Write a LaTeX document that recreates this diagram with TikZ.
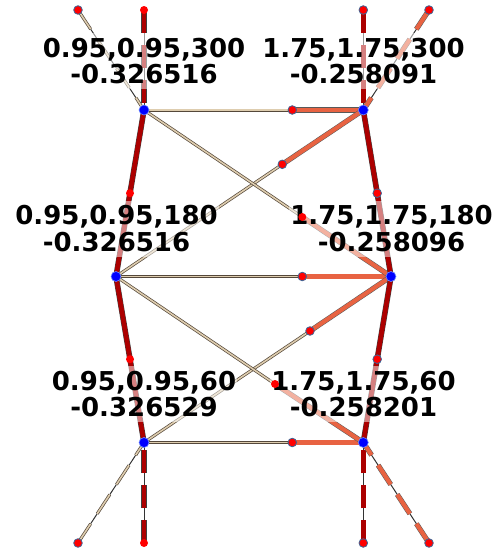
\documentclass[tikz,border=0pt]{standalone}
\usepackage{fontspec}
\newfontfamily\labfont{DejaVu Sans}
\definecolor{mdark}{RGB}{172,0,0}
\definecolor{morange}{RGB}{232,99,66}
\definecolor{mtan}{RGB}{222,205,175}
\definecolor{tanedge}{RGB}{85,72,58}
\definecolor{edgeblue}{RGB}{60,100,150}
\definecolor{jointedge}{RGB}{110,140,255}
\pgfdeclarelayer{edges}
\pgfsetlayers{edges,main}
\begin{document}
\begin{tikzpicture}[x=1pt,y=-1pt,
  redm/.style={draw=black!75, line width=0.5pt, double=mdark, double distance=4.6pt},
  orm/.style={draw=black!65, line width=0.5pt, double=morange, double distance=4.2pt},
  tanm/.style={draw=tanedge, line width=0.7pt, double=mtan, double distance=1.6pt},
  core/.style={draw=black!80, line width=1pt},
  dashpat/.style={dash pattern=on 23pt off 12pt},
  joint/.style={circle, fill=blue, draw=jointedge, line width=0.6pt, inner sep=0pt, minimum size=10pt},
  endp/.style={circle, fill=red, draw=edgeblue, line width=0.8pt, inner sep=0pt, minimum size=8.6pt},
  endq/.style={circle, fill=red, inner sep=0pt, minimum size=8pt},
  lab/.style={fill=white, fill opacity=0.5, text opacity=1, align=center,
    font=\labfont\bfseries\fontsize{26pt}{26.5pt}\selectfont, inner xsep=1pt, inner ysep=5pt}
]
\useasboundingbox (0,0) rectangle (500,552);

% labels
\node[lab] (t1) at (144,60.8) {0.95,0.95,300\\-0.326516};
\node[lab] (t2) at (363.5,60.8) {1.75,1.75,300\\-0.258091};
\node[lab] (t3) at (116.5,228.6) {0.95,0.95,180\\-0.326516};
\node[lab] (t4) at (391.5,228.6) {1.75,1.75,180\\-0.258096};
\node[lab] (t5) at (144,394.2) {0.95,0.95,60\\-0.326529};
\node[lab] (t6) at (363.5,394.2) {1.75,1.75,60\\-0.258201};

% joints
\node[joint] (L1) at (144,110) {};
\node[joint] (R1) at (363.3,110) {};
\node[joint] (L2) at (116,276.5) {};
\node[joint] (R2) at (391,276.5) {};
\node[joint] (L3) at (144,442.5) {};
\node[joint] (R3) at (363.3,442.5) {};

% end points
\node[endp] (A0) at (78,10) {};
\node[endq] (A1) at (144,10) {};
\node[endp] (B1) at (363.3,10) {};
\node[endp] (B0) at (429,10) {};
\node[endp] (C0) at (78,543) {};
\node[endq] (C1) at (144,543) {};
\node[endp] (D1) at (363.3,543) {};
\node[endp] (D0) at (429,543) {};

% mid points
\node[endp] (m1) at (292.3,110) {};
\node[endp] (m2) at (282.3,164.3) {};
\node[endq] (m3) at (302.3,217) {};
\node[endq] (m4) at (130,193.2) {};
\node[endp] (m5) at (377.2,193.2) {};
\node[endp] (m6) at (302.3,276.5) {};
\node[endp] (m7) at (310,331) {};
\node[endq] (m8) at (275,384) {};
\node[endq] (m9) at (130,359.2) {};
\node[endp] (m10) at (377.2,359.2) {};
\node[endp] (m11) at (292.3,442.5) {};

\begin{pgfonlayer}{edges}
  % boundary members (dashed)
  \foreach \a/\b in {A0/L1, A1/L1, B1/R1, B0/R1, C0/L3, C1/L3, D1/R3, D0/R3}
    \draw[core] (\a.center) -- (\b.center);
  \draw[tanm, dashpat] (A0.center) -- (L1.center);
  \draw[redm, dashpat] (A1.center) -- (L1.center);
  \draw[redm, dashpat] (B1.center) -- (R1.center);
  \draw[orm, dashpat] (B0.center) -- (R1.center);
  \draw[tanm, dashpat] (C0.center) -- (L3.center);
  \draw[redm, dashpat] (C1.center) -- (L3.center);
  \draw[redm, dashpat] (D1.center) -- (R3.center);
  \draw[orm, dashpat] (D0.center) -- (R3.center);

  % tan halves
  \foreach \a/\b in {L1/m1, L2/m6, L3/m11, L2/m2, L1/m3, L3/m7, L2/m8}
    \draw[tanm] (\a.center) -- (\b.center);
  % orange halves
  \foreach \a/\b in {m1/R1, m6/R2, m11/R3, m2/R1, m3/R2, m7/R2, m8/R3}
    \draw[orm] (\a.center) -- (\b.center);
  % verticals
  \foreach \a/\b in {L1/m4, m4/L2, L2/m9, m9/L3, R1/m5, m5/R2, R2/m10, m10/R3}
    \draw[redm] (\a.center) -- (\b.center);
\end{pgfonlayer}
\end{tikzpicture}
\end{document}
